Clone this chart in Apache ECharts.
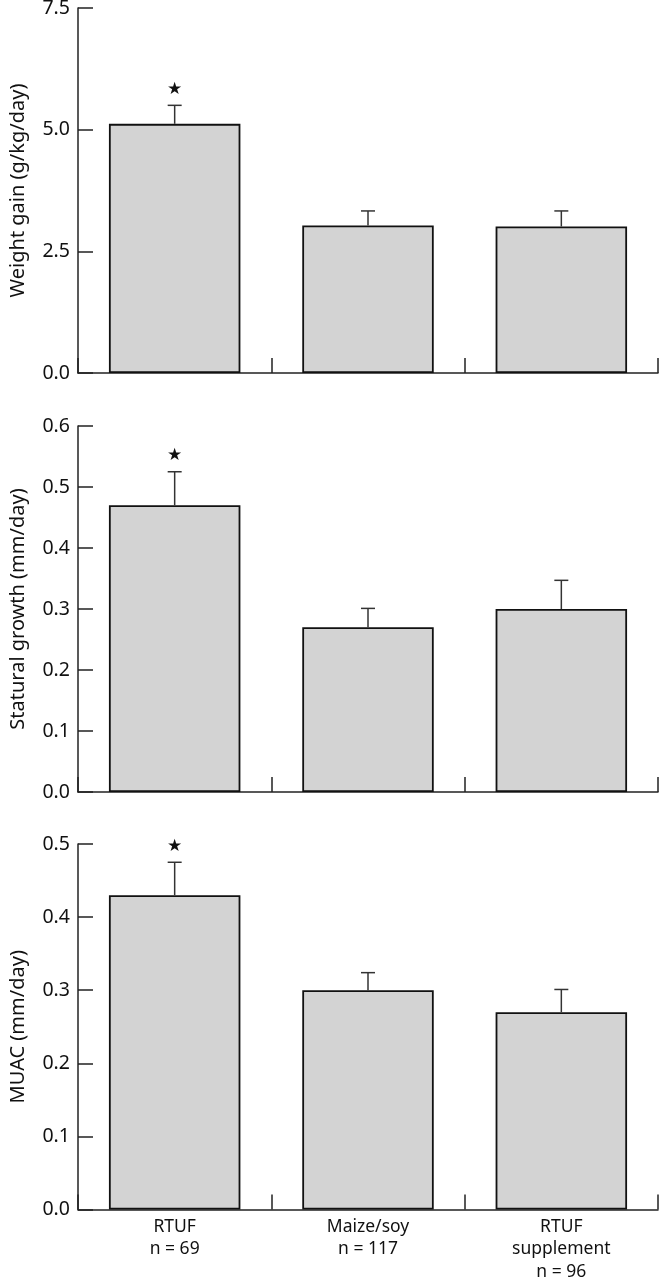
<!DOCTYPE html>
<html>
<head>
<meta charset="utf-8">
<script src="https://cdn.jsdelivr.net/npm/echarts@6/dist/echarts.min.js"></script>
<style>
  html, body { margin: 0; padding: 0; background: #fff; }
  #chart { width: 659px; height: 1280px; }
</style>
</head>
<body>
<div id="chart"></div>
<script>
// ---- data ----
const categories = ['RTUF\nn = 69', 'Maize/soy\nn = 117', 'RTUF\nsupplement\nn = 96'];

const weightGain = [5.12, 3.03, 3.01];
const weightGainErr = [0.38, 0.30, 0.32];

const staturalGrowth = [0.47, 0.27, 0.30];
const staturalGrowthErr = [0.055, 0.031, 0.047];

const muac = [0.43, 0.30, 0.27];
const muacErr = [0.045, 0.024, 0.031];

const significant = [true, false, false];

const panelTitles = ['Weight gain (g/kg/day)', 'Statural growth (mm/day)', 'MUAC (mm/day)'];
const panelMax = [7.5, 0.6, 0.5];
const panelInterval = [2.5, 0.1, 0.1];

// ---- build ----
const FONT = 'Noto Sans';
const AXIS_COLOR = '#222';
const grids = [
  { left: 78, right: 1, top: 8, height: 365, outerBoundsMode: 'none', containLabel: false },
  { left: 78, right: 1, top: 426, height: 366, outerBoundsMode: 'none', containLabel: false },
  { left: 78, right: 1, top: 844, height: 365.5, outerBoundsMode: 'none', containLabel: false }
];
const values = [weightGain, staturalGrowth, muac];
const errs = [weightGainErr, staturalGrowthErr, muacErr];

const xAxes = [], yAxes = [], series = [];
for (let p = 0; p < 3; p++) {
  const last = p === 2;
  xAxes.push({
    type: 'category', gridIndex: p, data: categories,
    boundaryGap: true,
    axisLine: { lineStyle: { color: AXIS_COLOR, width: 1.5 } },
    axisTick: { show: true, inside: true, length: 15, alignWithLabel: false,
                lineStyle: { color: AXIS_COLOR, width: 1.5 } },
    axisLabel: { show: last, margin: 6, color: '#111', fontFamily: FONT,
                 fontSize: 17.5, lineHeight: 22.5, interval: 0 },
    splitLine: { show: false }
  });
  yAxes.push({
    type: 'value', gridIndex: p, min: 0, max: panelMax[p], interval: panelInterval[p],
    name: panelTitles[p], nameLocation: 'middle', nameGap: 50,
    nameTextStyle: { color: '#111', fontFamily: FONT, fontSize: 20 },
    axisLine: { show: true, lineStyle: { color: AXIS_COLOR, width: 1.5 } },
    axisTick: { show: true, inside: true, length: 15, lineStyle: { color: AXIS_COLOR, width: 1.5 } },
    axisLabel: { margin: 8, color: '#111', fontFamily: FONT, fontSize: 19.5,
                 formatter: v => v.toFixed(1) },
    splitLine: { show: false }
  });
  series.push({
    type: 'bar', xAxisIndex: p, yAxisIndex: p,
    data: values[p], barWidth: '68%',
    itemStyle: { color: '#d3d3d3', borderColor: '#111', borderWidth: 1.8 },
    silent: true, animation: false
  });
  series.push({
    type: 'custom', xAxisIndex: p, yAxisIndex: p,
    data: values[p].map((v, i) => [i, v, v + errs[p][i], significant[i] ? 1 : 0]),
    encode: { x: 0, y: [1, 2] },
    z: 5, silent: true, animation: false,
    renderItem: function (params, api) {
      const base = api.coord([api.value(0), api.value(1)]);
      const top = api.coord([api.value(0), api.value(2)]);
      const capHalf = 7;
      const children = [
        { type: 'line', shape: { x1: base[0], y1: base[1], x2: top[0], y2: top[1] },
          style: { stroke: '#333', lineWidth: 1.5 } },
        { type: 'line', shape: { x1: top[0] - capHalf, y1: top[1], x2: top[0] + capHalf, y2: top[1] },
          style: { stroke: '#333', lineWidth: 1.5 } }
      ];
      if (api.value(3) === 1) {
        children.push({
          type: 'text',
          style: { text: '★', x: top[0], y: top[1] - 16, align: 'center', verticalAlign: 'middle',
                   fontFamily: 'DejaVu Sans', fontSize: 17, fill: '#111' }
        });
      }
      return { type: 'group', children: children };
    }
  });
}

const chart = echarts.init(document.getElementById('chart'), null, { renderer: 'canvas' });
chart.setOption({
  animation: false,
  backgroundColor: '#fff',
  grid: grids,
  xAxis: xAxes,
  yAxis: yAxes,
  series: series
});
</script>
</body>
</html>
